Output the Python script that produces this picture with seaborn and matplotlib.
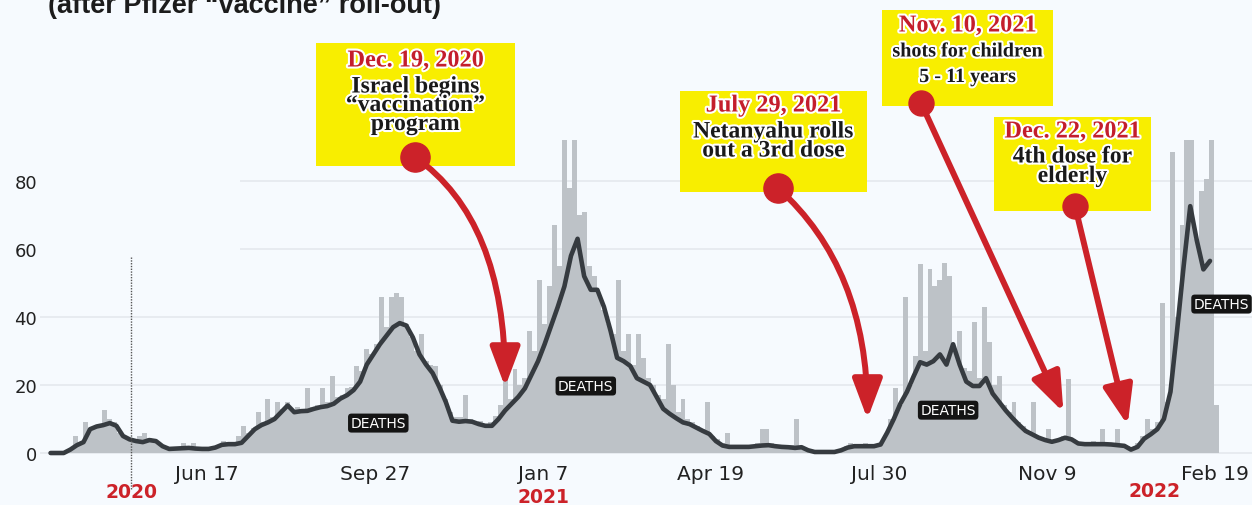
import matplotlib
matplotlib.use("Agg")
import matplotlib.pyplot as plt
import matplotlib.patheffects as pe
from matplotlib.patches import Rectangle
import pandas as pd
import seaborn as sns

# ---------------- data ----------------
origin_date = "2020-06-17"
series_start = "2020-03-14"
avg_step_days = 4
bar_step_days = 3

# 7-day average deaths, one value every 4 days from 2020-03-14
avg_deaths = [
    0, 0, 0, 1, 2.3, 3.2, 7, 7.8, 8.2, 8.8,
    8, 5, 4, 3.5, 3.2, 3.8, 3.5, 2, 1.2, 1.3,
    1.4, 1.5, 1.3, 1.2, 1.2, 1.6, 2.4, 2.6, 2.6, 3,
    5, 7, 8.2, 9, 10, 12, 14, 12, 12.3, 12.4,
    13, 13.5, 13.8, 14.5, 16, 17, 18.5, 21, 26, 29,
    32, 34.5, 37, 38.2, 37.5, 34, 29, 26, 23.5, 19.5,
    15, 9.5, 9.2, 9.4, 9.2, 8.5, 8, 8, 10, 12.5,
    14.5, 16.5, 19, 23, 27, 32, 37.5, 43, 49, 58,
    63, 52, 48, 48, 43, 36, 28, 27, 25.6, 22,
    21, 20, 16.5, 13, 11.5, 10.2, 9, 8.5, 7.5, 6.5,
    5.6, 3.5, 2.2, 1.8, 1.8, 1.8, 1.8, 2, 2.2, 2.3,
    2, 1.8, 1.7, 1.5, 1.7, 0.8, 0.3, 0.3, 0.3, 0.3,
    0.8, 1.6, 2, 2, 2, 2, 2.5, 6, 10, 14.5,
    18, 22.5, 26.7, 26, 27, 29, 26, 32, 26, 21,
    19.7, 19.7, 22, 17.5, 15, 12.5, 10.3, 8.3, 6.5, 5.5,
    4.5, 3.8, 3.3, 3.8, 4.5, 4, 2.8, 2.6, 2.6, 2.6,
    2.6, 2.5, 2.3, 2.1, 1, 1.8, 4.2, 5.5, 7, 10,
    18, 36, 55, 72.6, 62.5, 54, 56.5,
]

# reported deaths, one bar every 3 days from 2020-03-14
daily_deaths = [
    0, 0, 0.5, 0.5, 1.5, 5, 3, 9, 7, 8,
    8.5, 12.6, 10, 9, 6, 4.5, 4, 3.5, 5, 6,
    4.5, 3.5, 2.5, 1.5, 1.5, 1, 1.5, 3, 1.5, 3,
    1, 1, 1, 2, 2, 3.5, 2.5, 3, 5, 8,
    6, 7.5, 12, 9, 16, 10.5, 15, 13, 15, 12.5,
    13.5, 13, 19, 13.5, 14, 19, 15, 22.6, 16.5, 17,
    19, 19.5, 25.6, 24, 30.6, 29, 32, 46, 37, 46,
    47, 46, 38, 34, 30, 35, 27, 26, 25.6, 20,
    16, 12, 10.5, 10.5, 17, 10, 9, 9.5, 8, 9,
    11, 14, 22.6, 16, 24.7, 20, 22, 36, 30, 51,
    38, 49, 67, 55, 92, 78, 92, 70, 71, 55,
    52, 47, 42, 38, 35, 51, 30, 35, 26, 35,
    28, 22, 20, 17, 16, 32, 20, 12, 16, 10,
    9, 8, 7, 15, 5, 4, 3, 6, 2, 2.5,
    2, 2.5, 2, 3, 7, 7, 3, 2.5, 2, 2,
    2.5, 10, 2, 1.5, 0.5, 0.5, 1, 0.5, 0.5, 1,
    1, 2, 3, 2.5, 2, 3, 2.5, 2, 3, 5,
    10, 19, 14, 46, 20, 28.5, 55.6, 30, 54, 49,
    51, 56, 52, 30, 36, 25, 24, 38.5, 22, 43,
    32.6, 20, 22.6, 14, 12, 15, 9, 8, 6, 15,
    5, 4, 7, 3.5, 4, 5, 21.8, 4, 3, 3,
    3, 3.5, 3, 7, 3, 3, 7, 2.5, 2, 1,
    3, 5, 10, 7, 9, 44, 15, 88.5, 40, 67,
    92, 92, 63, 77, 80.6, 92, 14,
]

tick_dates = ["2020-06-17", "2020-09-27", "2021-01-07", "2021-04-19",
              "2021-07-30", "2021-11-09", "2022-02-19"]
tick_labels = ["Jun 17", "Sep 27", "Jan 7", "Apr 19", "Jul 30", "Nov 9", "Feb 19"]
y_ticks = [0, 20, 40, 60, 80]

year_labels = ["2020", "2021", "2022"]
year_label_dates = ["2020-05-02", "2021-01-07", "2022-01-13"]
year_marker_date = "2020-05-02"
year_marker_top = 57.6

deaths_label_dates = ["2020-09-29", "2021-02-02", "2021-09-10", "2022-02-23"]
deaths_label_values = [8.8, 19.7, 12.6, 43.8]

event_titles = ["Dec. 19, 2020", "July 29, 2021", "Nov. 10, 2021", "Dec. 22, 2021"]
event_texts = [["Israel begins", "\u201cvaccination\u201d", "program"],
               ["Netanyahu rolls", "out a 3rd dose"],
               ["shots for children", "5 - 11 years"],
               ["4th dose for", "elderly"]]
event_tip_dates = ["2020-12-15", "2021-07-23", "2021-11-19", "2021-12-28"]
event_tip_values = [19.4, 10.0, 12.0, 8.2]

title_text = "(after Pfizer \u201cvaccine\u201d roll-out)"

# ---------------- layout / style ----------------
W, H = 1252, 506
BG = "#F6FAFE"
GRID = "#E6EAEF"
BAR = "#BDC2C7"
LINE = "#363B40"
RED = "#CC2229"
DATE_RED = "#C41E2C"
YELLOW = "#F8EE00"
TXT = "#222222"

boxes = [(316, 44, 515, 167), (680, 92, 867, 193), (882, 11, 1053, 107), (994, 118, 1151, 212)]
title_y = [62, 107, 27, 133]
body_y = [[88, 106.5, 125.5], [133, 152], [52.5, 78], [158, 177.5]]
title_fs = [17.5, 17.5, 17.5, 17.5]
body_fs = [17, 17, 14.5, 17]
dots = [(415, 158), (778, 189), (921, 104), (1075, 207)]
dot_ms = [21, 21, 18, 18]
conns = ["angle3,angleA=-35,angleB=90", "angle3,angleA=-42,angleB=90",
         "arc3,rad=0", "arc3,rad=0"]
year_label_py = [493, 498, 492]

sns.set_theme(style="white")
plt.rcParams['font.family'] = ['DejaVu Sans']


def days(s):
    return (pd.Timestamp(s) - pd.Timestamp(origin_date)).days


start = days(series_start)
df_bar = pd.DataFrame({
    "day": [start + bar_step_days * i for i in range(len(daily_deaths))],
    "deaths": daily_deaths,
})
df_avg = pd.DataFrame({
    "day": [start + avg_step_days * i for i in range(len(avg_deaths))],
    "avg": avg_deaths,
})

fig = plt.figure(figsize=(W / 100, H / 100), dpi=100)
fig.patch.set_facecolor(BG)

ax_top_px, ax_bot_px, ax_left_px = 141.2, 459.1, 40
ax = fig.add_axes([ax_left_px / W, (H - ax_bot_px) / H, (W - ax_left_px) / W,
                   (ax_bot_px - ax_top_px) / H])
ax.set_facecolor(BG)

sns.barplot(data=df_bar, x="day", y="deaths", native_scale=True, width=1.0,
            color=BAR, saturation=1, errorbar=None, linewidth=0, ax=ax, zorder=2)
sns.lineplot(data=df_avg, x="day", y="avg", color=LINE, linewidth=3.3, ax=ax, zorder=3)

ax.set_xlim(-101.4, 634.5)
ax.set_ylim(-1.5, 92)
ax.set_yticks(y_ticks)
ax.set_yticklabels([str(v) for v in y_ticks])
ax.set_xticks([days(d) for d in tick_dates])
ax.set_xticklabels(tick_labels)
ax.grid(axis="y", color=GRID, linewidth=1.3)
ax.grid(axis="x", visible=False)
ax.set_axisbelow(True)
for s in ax.spines.values():
    s.set_visible(False)
ax.set_xlabel("")
ax.set_ylabel("")
ax.tick_params(axis="x", length=4, width=1, color="#DCE1E6", labelsize=14.5,
               labelcolor=TXT, pad=0.5)
ax.tick_params(axis="y", length=0, labelsize=13, labelcolor=TXT, pad=2)

# dotted year marker
md = days(year_marker_date)
ax.plot([md, md], [year_marker_top, -10.5], linestyle=(0, (1, 1)), color="#555555",
        linewidth=1, clip_on=False, zorder=4)

# year labels
for lab, d, py in zip(year_labels, year_label_dates, year_label_py):
    ax.text(days(d), (ax_bot_px - py) / (ax_bot_px - ax_top_px),
            lab, transform=ax.get_xaxis_transform(), ha="center", va="center",
            color=RED, fontsize=13.5, fontweight="bold", clip_on=False)

# DEATHS labels
for d, v in zip(deaths_label_dates, deaths_label_values):
    ax.text(days(d), v, "DEATHS", ha="center", va="center", color="white", fontsize=10,
            zorder=6, bbox=dict(boxstyle="round,pad=0.18,rounding_size=0.25",
                                fc="#141414", ec="none"))

# overlay in pixel coordinates for annotation boxes
ov = fig.add_axes([0, 0, 1, 1], zorder=5)
ov.set_xlim(0, W)
ov.set_ylim(H, 0)
ov.axis("off")
ov.patch.set_alpha(0)

# covered legend area (hides top-left gridlines)
ov.add_patch(Rectangle((ax_left_px, 140), 200, 115, color=BG, zorder=0, lw=0))

# title, cut off by the top edge as in the source image
ov.text(245, 12.7, title_text, ha="center", va="baseline", fontsize=19.5,
        fontweight="bold", color="#1C1C1C", family="Liberation Sans")

stroke = [pe.withStroke(linewidth=3, foreground="white")]
for i in range(len(event_titles)):
    x0, y0, x1, y1 = boxes[i]
    ov.add_patch(Rectangle((x0, y0), x1 - x0, y1 - y0, color=YELLOW, lw=0, zorder=1))
    cx = (x0 + x1) / 2
    ov.text(cx, title_y[i], event_titles[i], ha="center", va="center",
            fontsize=title_fs[i], fontweight="bold", color=DATE_RED,
            family="Liberation Serif", path_effects=stroke, zorder=3)
    for line, yy in zip(event_texts[i], body_y[i]):
        ov.text(cx, yy, line, ha="center", va="center", fontsize=body_fs[i],
                fontweight="bold", color="#1A1A1A", family="Liberation Serif",
                path_effects=stroke, zorder=3)
    ov.annotate("", xy=(days(event_tip_dates[i]), event_tip_values[i]),
                xycoords=ax.transData, xytext=dots[i], textcoords="data",
                arrowprops=dict(arrowstyle="-|>,head_length=1.2,head_width=0.45",
                                mutation_scale=20, connectionstyle=conns[i],
                                color=RED, lw=4.3, shrinkA=0, shrinkB=0),
                zorder=4, annotation_clip=False)
    ov.plot([dots[i][0]], [dots[i][1]], "o", ms=dot_ms[i], color=RED, zorder=6)

fig.savefig("out.png", dpi=100, facecolor=BG)
